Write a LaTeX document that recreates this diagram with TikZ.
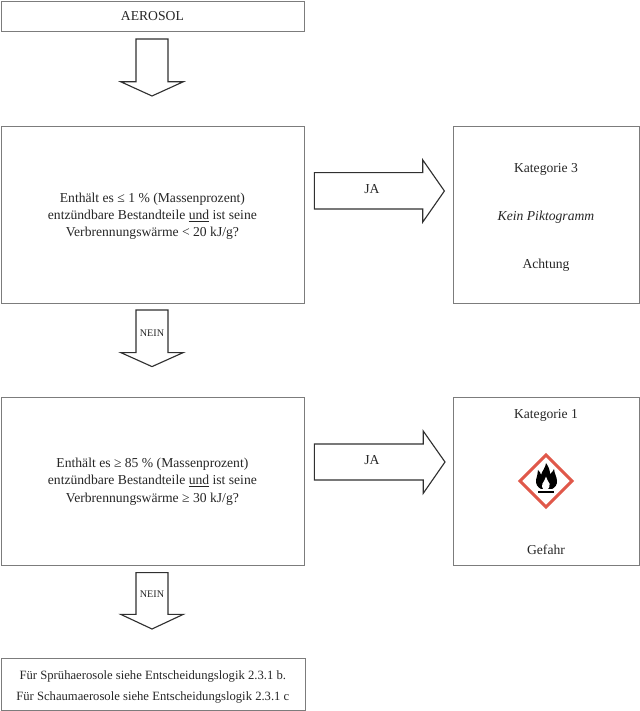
\documentclass[tikz,border=0pt]{standalone}
\usepackage{fontspec}
\setmainfont{Liberation Serif}
\usepackage{tikz}
\usetikzlibrary{positioning}

\definecolor{boxgray}{HTML}{7C7C7C}
\definecolor{arrowgray}{HTML}{303030}
\definecolor{ghsred}{HTML}{E0584A}

\tikzset{
  box/.style={draw=boxgray, line width=0.6pt, inner sep=0pt},
  blockarrow/.style={draw=arrowgray, line width=0.8pt, fill=white, line join=miter},
  boxtext/.style={font=\fontsize{9.7}{12.4}\selectfont, align=center, text=black!85},
  resttext/.style={font=\fontsize{9}{11}\selectfont, text=black!85},
  smalltext/.style={font=\fontsize{7.2}{8}\selectfont, text=black!85}
}

\begin{document}
\begin{tikzpicture}

\useasboundingbox (0,0) rectangle (16,17.775);

% boxes

\node[box, minimum width=7.575cm, minimum height=0.75cm] (aerosol) at (3.825, 17.375) {};
\node[box, minimum width=7.575cm, minimum height=4.425cm] (frage1) at (3.825, 12.4125) {};
\node[box, minimum width=7.575cm, minimum height=4.2cm] (frage2) at (3.825, 5.75) {};
\node[box, minimum width=4.65cm, minimum height=4.425cm] (kat3) at (13.66, 12.4125) {};
\node[box, minimum width=4.65cm, minimum height=4.2cm] (kat1) at (13.66, 5.75) {};
\node[box, minimum width=7.6cm, minimum height=1.3cm] (rest) at (3.83, 0.675) {};

% texts in the boxes

\node[boxtext] (aerosol_label) at (3.81, 17.375) {AEROSOL};
\node[boxtext] (frage1_label) at (3.81, 12.37) {Enthält es ≤ 1 \% (Massenprozent)\\entzündbare Bestandteile \underline{und} ist seine\\Verbrennungswärme < 20 kJ/g?};
\node[boxtext] (frage2_label) at (3.81, 5.74) {Enthält es ≥ 85 \% (Massenprozent)\\entzündbare Bestandteile \underline{und} ist seine\\Verbrennungswärme ≥ 30 kJ/g?};

\node[boxtext] (kat3_label) at (13.65, 13.55) {Kategorie 3};
\node[boxtext] (kat3_picto) at (13.65, 12.35) {\itshape Kein Piktogramm};
\node[boxtext] (kat3_wort) at (13.65, 11.15) {Achtung};

\node[boxtext] (kat1_label) at (13.65, 7.4) {Kategorie 1};
\node[boxtext] (kat1_wort) at (13.65, 4.03) {Gefahr};

\node[resttext] (rest1) at (3.82, 0.87) {Für Sprühaerosole siehe Entscheidungslogik 2.3.1 b.};
\node[resttext] (rest2) at (3.82, 0.33) {Für Schaumaerosole siehe Entscheidungslogik 2.3.1 c};

% down arrows

\draw[blockarrow] (3.4,16.8) -- (4.2,16.8) -- (4.2,15.73) -- (4.58,15.73) -- (3.8,15.375) -- (3.02,15.73) -- (3.4,15.73) -- cycle;
\draw[blockarrow] (3.4,10.025) -- (4.2,10.025) -- (4.2,8.96) -- (4.58,8.96) -- (3.8,8.61) -- (3.02,8.96) -- (3.4,8.96) -- cycle;
\draw[blockarrow] (3.4,3.46) -- (4.2,3.46) -- (4.2,2.415) -- (4.58,2.415) -- (3.8,2.05) -- (3.02,2.415) -- (3.4,2.415) -- cycle;

\node[smalltext] (nein1) at (3.8, 9.45) {NEIN};
\node[smalltext] (nein2) at (3.8, 2.925) {NEIN};

% right arrows

\draw[blockarrow] (7.86,13.46) -- (10.57,13.46) -- (10.57,13.775) -- (11.11,13.0) -- (10.57,12.225) -- (10.57,12.55) -- (7.86,12.55) -- cycle;
\draw[blockarrow] (7.86,6.675) -- (10.58,6.675) -- (10.58,7.0) -- (11.125,6.225) -- (10.58,5.44) -- (10.58,5.775) -- (7.86,5.775) -- cycle;

\node[boxtext] (ja1) at (9.3, 13.05) {JA};
\node[boxtext] (ja2) at (9.3, 6.275) {JA};

% pictogram

\draw[ghsred, line width=2.2pt, line join=miter] (13.65,6.4) -- (14.3,5.75) -- (13.65,5.1) -- (13.0,5.75) -- cycle;
\fill[black] (13.525,5.55) .. controls (13.43,5.6) and (13.39,5.68) .. (13.4,5.775) .. controls (13.41,5.87) and (13.46,5.93) .. (13.45,6.025) .. controls (13.5,5.98) and (13.52,5.94) .. (13.525,5.9) .. controls (13.55,6.0) and (13.64,6.08) .. (13.65,6.2) .. controls (13.71,6.12) and (13.75,6.02) .. (13.75,5.925) .. controls (13.79,5.95) and (13.83,6.0) .. (13.85,6.05) .. controls (13.86,5.94) and (13.92,5.86) .. (13.925,5.75) .. controls (13.93,5.66) and (13.88,5.59) .. (13.8,5.55) -- cycle;
\fill[white] (13.65,5.86) .. controls (13.66,5.78) and (13.72,5.74) .. (13.74,5.68) .. controls (13.75,5.62) and (13.72,5.57) .. (13.7,5.55) -- (13.58,5.55) .. controls (13.55,5.58) and (13.54,5.63) .. (13.56,5.68) .. controls (13.58,5.74) and (13.64,5.78) .. (13.65,5.86) -- cycle;
\fill[black] (13.46,5.45) rectangle (13.84,5.5);

\end{tikzpicture}
\end{document}
